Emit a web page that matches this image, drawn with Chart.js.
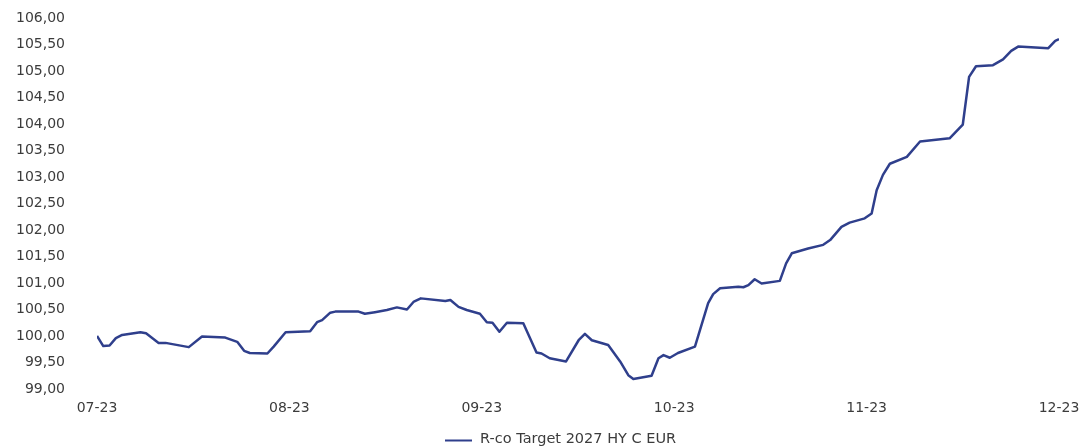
<!DOCTYPE html>
<html>
<head>
<meta charset="utf-8">
<script src="https://cdn.jsdelivr.net/npm/chart.js@4.4.1/dist/chart.umd.min.js"></script>
<style>
  html, body { margin: 0; padding: 0; background: #ffffff; }
  #wrap { width: 1082px; height: 446px; }
</style>
</head>
<body>
<div id="wrap"><canvas id="c" width="1082" height="446"></canvas></div>
<script>
const seriesName = "R-co Target 2027 HY C EUR";
const monthLabels = ["07-23", "08-23", "09-23", "10-23", "11-23", "12-23"];
const xMax = 153;
const days = [0,1,2,3,4,6.9,7.8,9.8,10.9,14.6,16.7,20.4,22.3,23.4,24.3,27.1,28.1,30,33.9,35,35.8,37.1,37.9,41.6,42.6,44.2,46.1,47.7,49.3,50.4,51.5,55.4,56.2,57.5,58.8,60.9,62,62.9,64,65.2,67.8,69.9,70.7,72,74.6,76.6,77.6,78.7,81.3,83.2,84.5,85.3,88.2,89.3,90.1,91.1,92.4,95.1,97.2,98,99.1,102,102.8,103.6,104.6,105.7,108.6,109.6,110.5,113.1,115.5,116.6,118.4,119.7,122.1,123.2,124,125,126.1,128.8,130.9,135.6,137.7,138.7,139.8,142.5,144.1,145.4,146.5,151.3,152.4,153];
const values = [100.00,99.81,99.82,99.96,100.02,100.07,100.05,99.87,99.87,99.79,99.99,99.97,99.89,99.72,99.68,99.67,99.80,100.07,100.09,100.26,100.30,100.44,100.46,100.46,100.42,100.45,100.49,100.54,100.50,100.65,100.71,100.66,100.68,100.55,100.49,100.42,100.26,100.25,100.08,100.25,100.24,99.69,99.67,99.58,99.52,99.92,100.04,99.92,99.83,99.52,99.26,99.19,99.25,99.58,99.64,99.59,99.68,99.80,100.62,100.79,100.90,100.93,100.92,100.96,101.07,100.99,101.04,101.37,101.56,101.65,101.72,101.81,102.06,102.14,102.22,102.31,102.75,103.04,103.25,103.38,103.67,103.73,103.99,104.89,105.09,105.11,105.22,105.38,105.46,105.43,105.57,105.60];
const yMin = 99, yMax = 106, yStep = 0.5;

const lineColor = "#2f3f8c";
const textColor = "#3c3c3c";
const fontFamily = "'DejaVu Sans', sans-serif";

const points = days.map((d, i) => ({ x: d, y: values[i] }));

const customLegend = {
  id: "customLegend",
  afterDraw(chart) {
    const ctx = chart.ctx;
    const ds = chart.data.datasets[0];
    ctx.save();
    const y = 440;
    const x0 = 445;
    ctx.strokeStyle = ds.borderColor;
    ctx.lineWidth = 2;
    ctx.beginPath();
    ctx.moveTo(x0, y + 0.5);
    ctx.lineTo(x0 + 27, y + 0.5);
    ctx.stroke();
    ctx.fillStyle = textColor;
    ctx.font = "14.5px " + fontFamily;
    ctx.textBaseline = "middle";
    ctx.textAlign = "left";
    ctx.fillText(ds.label, x0 + 35, y - 1);
    ctx.restore();
  }
};

new Chart(document.getElementById("c"), {
  type: "line",
  data: {
    datasets: [{
      label: seriesName,
      data: points,
      borderColor: lineColor,
      borderWidth: 2.5,
      pointRadius: 0,
      tension: 0,
      borderJoinStyle: "round",
      fill: false
    }]
  },
  options: {
    responsive: false,
    animation: false,
    devicePixelRatio: 1,
    layout: { padding: { top: 18, right: 23, bottom: 30, left: 0 } },
    plugins: {
      legend: { display: false },
      tooltip: { enabled: false }
    },
    scales: {
      x: {
        type: "linear",
        min: 0,
        max: xMax,
        grid: { display: false, drawTicks: false },
        border: { display: false },
        afterBuildTicks(scale) {
          scale.ticks = monthLabels.map((l, i) => ({ value: i * xMax / (monthLabels.length - 1) }));
        },
        afterFit(scale) {
          scale.height = 27;
          scale.paddingLeft = 0; scale.paddingRight = 0;
          scale.paddingTop = 0; scale.paddingBottom = 0;
        },
        ticks: {
          autoSkip: false,
          maxRotation: 0,
          padding: 11,
          color: textColor,
          font: { family: fontFamily, size: 14 },
          callback: (v, i) => monthLabels[i]
        }
      },
      y: {
        min: yMin,
        max: yMax,
        grid: { display: false, drawTicks: false },
        border: { display: false },
        afterFit(scale) {
          scale.width = 97;
          scale.paddingLeft = 0; scale.paddingRight = 0;
          scale.paddingTop = 0; scale.paddingBottom = 0;
        },
        ticks: {
          stepSize: yStep,
          padding: 32,
          color: textColor,
          font: { family: fontFamily, size: 14 },
          callback: (v) => v.toFixed(2).replace(".", ",")
        }
      }
    }
  },
  plugins: [customLegend]
});
</script>
</body>
</html>
